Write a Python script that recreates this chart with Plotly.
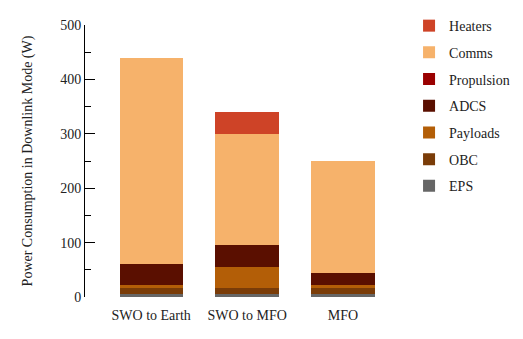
import plotly.graph_objects as go

categories = ["SWO to Earth", "SWO to MFO", "MFO"]

# stack order bottom -> top
subsystems = ["EPS", "OBC", "Payloads", "ADCS", "Propulsion", "Comms", "Heaters"]
eps = [5, 5, 5]
obc = [12, 12, 12]
payloads = [5, 39, 5]
adcs = [38, 39, 22]
propulsion = [0, 0, 0]
comms = [380, 205, 206]
heaters = [0, 40, 0]

values = [eps, obc, payloads, adcs, propulsion, comms, heaters]
colors = ["#666666", "#7a3c08", "#b35e07", "#5a0f00", "#9a0000", "#f6b26b", "#ce4327"]

font = "Liberation Serif"
fig = go.Figure()
legends = {}
n = len(subsystems)
for i, (name, vals, col) in enumerate(zip(subsystems, values, colors)):
    # one legend per entry so the spacing can match the original (Heaters on top)
    row = n - 1 - i
    key = "legend" if row == 0 else f"legend{row + 1}"
    fig.add_trace(go.Bar(x=categories, y=vals, name=name, marker_color=col,
                         marker_line_width=0, legend=key, showlegend=True))
    legends[key] = dict(x=1.059, y=1.055 - row * 26.7 / 272, xanchor="left", yanchor="top",
                        bgcolor="rgba(0,0,0,0)",
                        font=dict(family=font, size=14, color="#222222"))

# page has an 8px body margin, so the figure is shrunk to fit the window
fig.update_layout(
    barmode="stack",
    bargap=0.34,
    showlegend=True,
    width=515, height=331,
    margin=dict(l=77, r=132, t=17, b=42, autoexpand=False),
    plot_bgcolor="white", paper_bgcolor="white",
    font=dict(family=font, size=14, color="#222222"),
    **legends,
)
fig.update_xaxes(range=[-0.69, 2.5], showline=False, ticks="", showgrid=False,
                 ticklabelstandoff=8, automargin=False)
fig.update_yaxes(range=[0, 500], dtick=100, showgrid=False, zeroline=False,
                 showline=True, linecolor="black", linewidth=1,
                 ticks="inside", ticklen=10, tickcolor="black", automargin=False,
                 minor=dict(dtick=50, ticks="inside", ticklen=6, tickcolor="black"),
                 title=dict(text="Power Consumption in Downlink Mode (W)", standoff=24,
                            font=dict(family=font, size=14, color="#222222")))

fig.write_html("out.html")
